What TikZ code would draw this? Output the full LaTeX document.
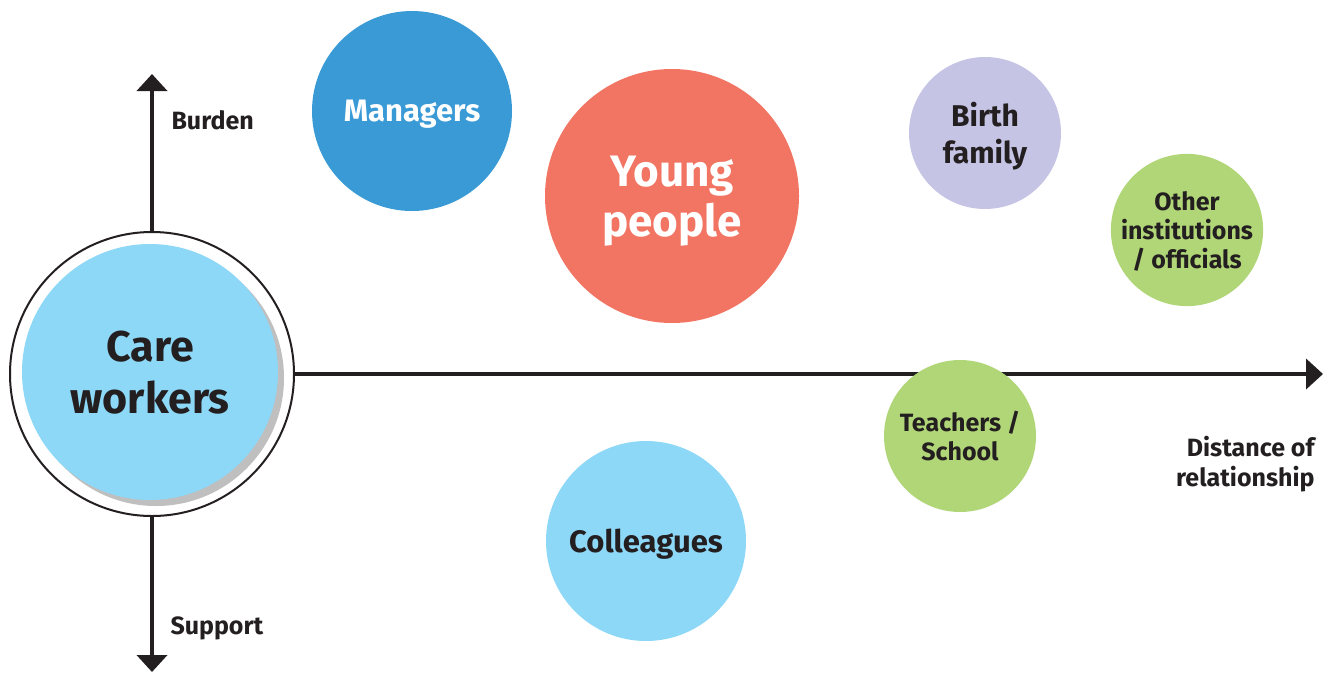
\documentclass[tikz,border=0pt]{standalone}
\usepackage{fontspec}
\setmainfont{Fira Sans}
\usepackage{tikz}
\usepackage{xcolor}
\usetikzlibrary{arrows.meta, positioning, calc}

\definecolor{textdark}{HTML}{231F20}
\definecolor{skyblue}{HTML}{8DD7F7}
\definecolor{mgrblue}{HTML}{3A9AD6}
\definecolor{salmon}{HTML}{F27463}
\definecolor{lilac}{HTML}{C5C4E4}
\definecolor{leaf}{HTML}{B1D677}

\tikzset{
  bubble/.style={circle, inner sep=0pt, align=center, text depth=0pt, font=\bfseries},
  axisline/.style={line width=4pt, textdark, -{Triangle[width=30pt,length=17pt]}},
  axislabel/.style={font=\bfseries\fontsize{25}{30}\selectfont, text=textdark}
}

\begin{document}
\begin{tikzpicture}[x=1pt, y=-1pt]
\useasboundingbox (0,0) rectangle (1333,675);

% Centre: care workers
\node[circle, draw=textdark, line width=2pt, fill=white, minimum size=284pt] (cw) at (152,374) {};
\fill[black!25] (156,378) circle (128);
\node[bubble, fill=skyblue, minimum size=256pt, text=textdark,
      font=\bfseries\fontsize{43}{52}\selectfont] (care) at (150,372) {Care\\workers};

% Axes
\coordinate (burdentip) at (152,74);
\coordinate (supporttip) at (152,672);
\coordinate (distancetip) at (1323,374);
\draw[axisline] (cw.north) -- (burdentip);
\draw[axisline] (cw.south) -- (supporttip);
\draw[axisline] (cw.east) -- (distancetip);
\node[axislabel, anchor=west] (burden) at (168,120) {Burden};
\node[axislabel, anchor=west] (support) at (167,628) {Support};
\node[axislabel, anchor=east, align=right, font=\bfseries\fontsize{25}{30}\selectfont] (distance) at (1318,464) {Distance of\\relationship};

% Other parties
\node[bubble, fill=mgrblue, minimum size=200pt, text=white,
      font=\bfseries\fontsize{31}{38}\selectfont] (managers) at (412,111) {Managers};
\node[bubble, fill=salmon, minimum size=254pt, text=white,
      font=\bfseries\fontsize{44}{50}\selectfont] (young) at (672,196) {Young\\people};
\node[bubble, fill=lilac, minimum size=152pt, text=textdark,
      font=\bfseries\fontsize{30}{37}\selectfont] (birth) at (985,133) {Birth\\family};
\node[bubble, fill=leaf, minimum size=152pt, text=textdark,
      font=\bfseries\fontsize{25}{29}\selectfont] (other) at (1187,230) {Other\\institutions\\/ officials};
\node[bubble, fill=leaf, minimum size=152pt, text=textdark,
      font=\bfseries\fontsize{25}{29}\selectfont] (teachers) at (960,436) {Teachers /\\School};
\node[bubble, fill=skyblue, minimum size=200pt, text=textdark,
      font=\bfseries\fontsize{31}{38}\selectfont] (colleagues) at (646,541) {Colleagues};
\end{tikzpicture}
\end{document}
